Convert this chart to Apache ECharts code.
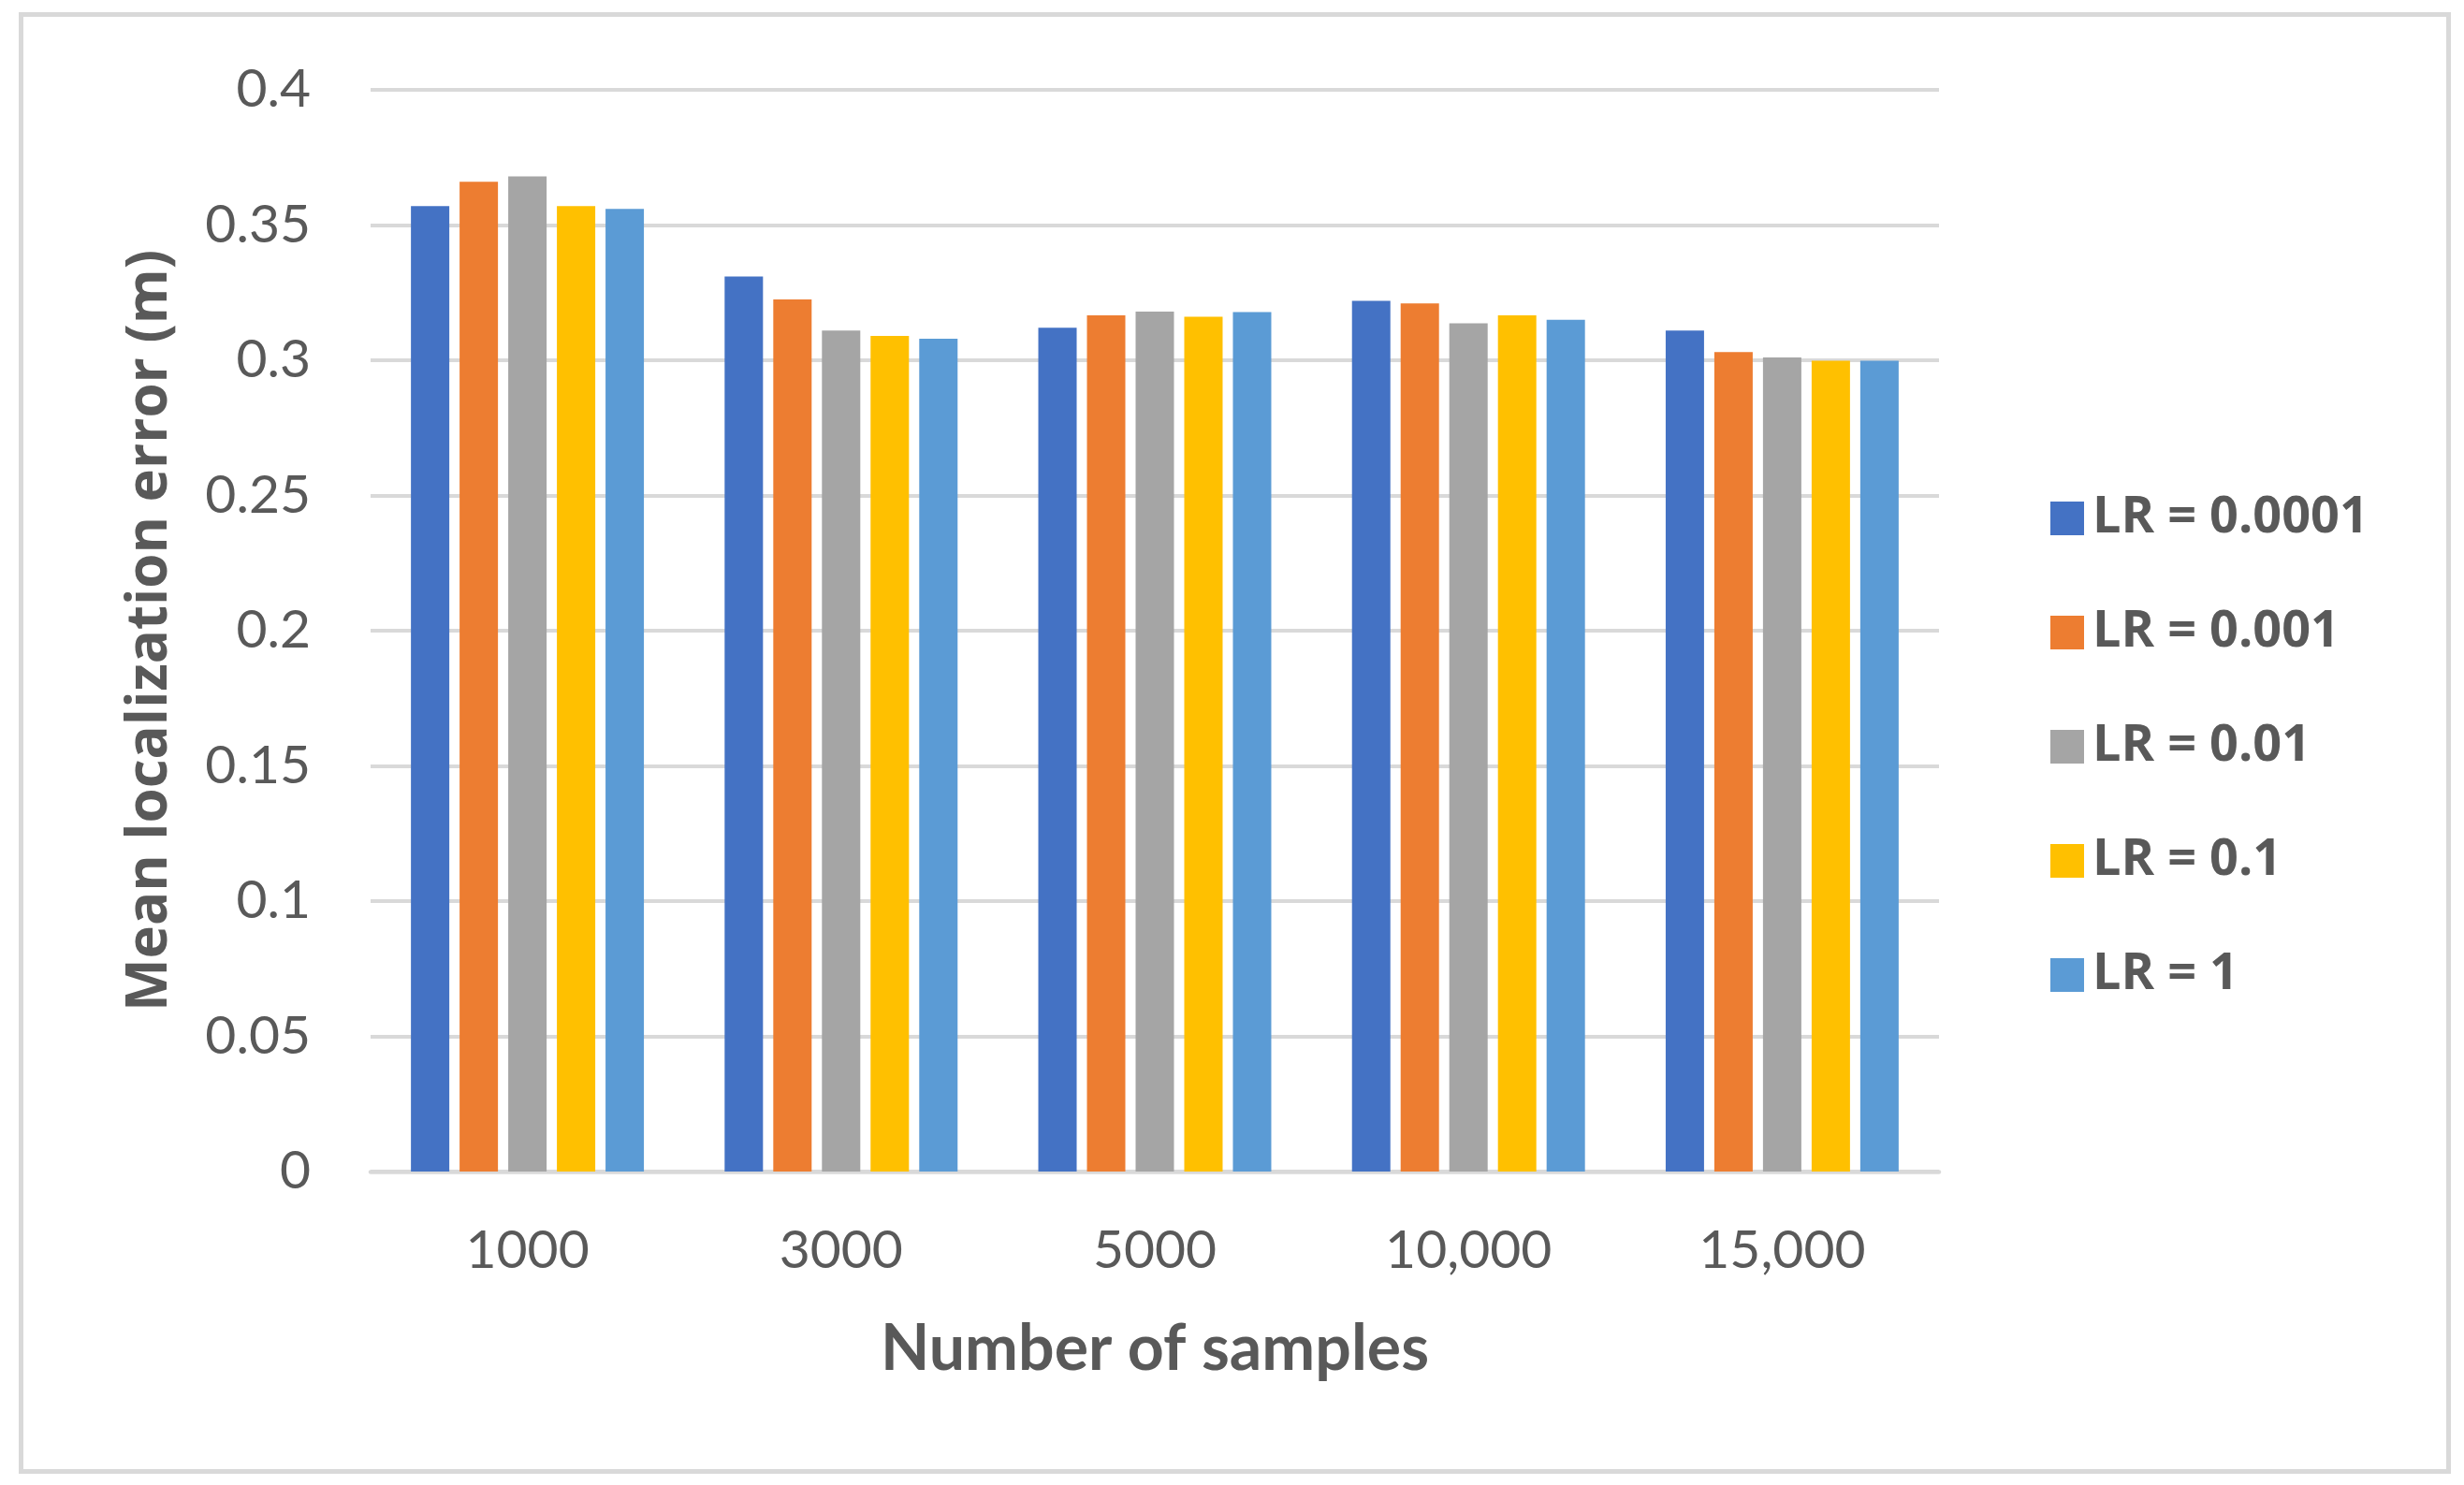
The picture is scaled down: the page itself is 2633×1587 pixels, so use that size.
<!DOCTYPE html>
<html>
<head>
<meta charset="utf-8">
<script src="https://cdn.jsdelivr.net/npm/echarts@6/dist/echarts.min.js"></script>
<style>
html,body{margin:0;padding:0;background:#fff;}
#chart{width:2633px;height:1587px;}
</style>
</head>
<body>
<div id="chart"></div>
<script>
const categories = ['1000', '3000', '5000', '10,000', '15,000'];
const seriesNames = ['LR = 0.0001', 'LR = 0.001', 'LR = 0.01', 'LR = 0.1', 'LR = 1'];
const lr0001 = [0.357, 0.331, 0.312, 0.322, 0.311];
const lr001  = [0.366, 0.3225, 0.3166, 0.321, 0.303];
const lr01   = [0.368, 0.311, 0.318, 0.3137, 0.301];
const lr1    = [0.357, 0.309, 0.3161, 0.3166, 0.2998];
const lr10   = [0.356, 0.308, 0.3178, 0.315, 0.2998];
const colors = ['#4472C4', '#ED7D31', '#A5A5A5', '#FFC000', '#5B9BD5'];
const yTicks = { min: 0, max: 0.4, interval: 0.05 };

const allValues = [lr0001, lr001, lr01, lr1, lr10];
const textColor = '#595959';

const chart = echarts.init(document.getElementById('chart'), null, { renderer: 'canvas' });
chart.setOption({
  animation: false,
  backgroundColor: '#ffffff',
  color: colors,
  graphic: [{
    type: 'rect',
    shape: { x: 22.5, y: 15.5, width: 2594, height: 1557 },
    style: { fill: 'none', stroke: '#D9D9D9', lineWidth: 5 },
    silent: true
  }],
  grid: { left: 396, right: 561, top: 96, bottom: 335, containLabel: false },
  legend: {
    orient: 'vertical',
    left: 2186,
    top: 522,
    icon: 'rect',
    itemWidth: 36,
    itemHeight: 36,
    itemGap: 68,
    textStyle: { fontFamily: 'Open Sans', fontWeight: 'bold', fontSize: 54, color: textColor, lineHeight: 54, padding: [0, 0, 0, 4] },
    data: seriesNames
  },
  xAxis: {
    type: 'category',
    data: categories,
    name: 'Number of samples',
    nameLocation: 'middle',
    nameGap: 156,
    nameTextStyle: { fontFamily: 'Lato', fontWeight: 'bold', fontSize: 68, color: textColor },
    axisLine: { show: true, lineStyle: { color: '#D9D9D9', width: 4.5 } },
    axisTick: { show: false },
    axisLabel: { fontFamily: 'Lato', fontSize: 57, color: textColor, margin: 56 },
    splitLine: { show: false }
  },
  yAxis: {
    type: 'value',
    min: yTicks.min,
    max: yTicks.max,
    interval: yTicks.interval,
    name: 'Mean localization error (m)',
    nameLocation: 'middle',
    nameGap: 205,
    nameTextStyle: { fontFamily: 'Open Sans', fontWeight: 'bold', fontSize: 60, color: textColor },
    axisLine: { show: false },
    axisTick: { show: false },
    axisLabel: { fontFamily: 'Lato', fontSize: 57, color: textColor, margin: 64 },
    splitLine: { show: true, lineStyle: { color: '#D9D9D9', width: 4 } }
  },
  series: seriesNames.map((n, i) => ({
    name: n,
    type: 'bar',
    data: allValues[i],
    barWidth: 41,
    barGap: '26.8%',
    itemStyle: { color: colors[i] }
  }))
});
</script>
</body>
</html>
